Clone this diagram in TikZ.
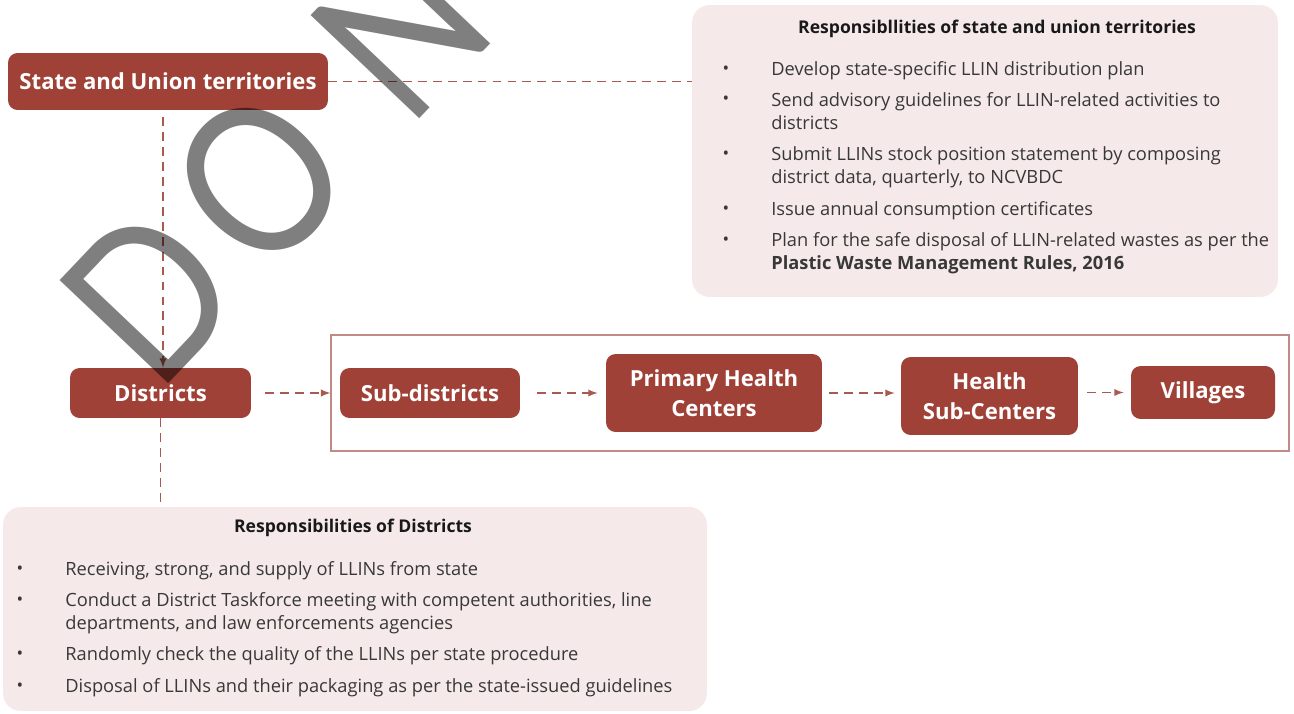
\documentclass[tikz,border=0pt]{standalone}
\usepackage{fontspec}
\setmainfont{Open Sans}
\newfontfamily\markfont[LetterSpace=12]{Lato}
\usetikzlibrary{positioning}
\definecolor{brick}{HTML}{A04137}
\definecolor{blush}{HTML}{F5EAE9}
\definecolor{dashred}{HTML}{A85A50}
\definecolor{framered}{HTML}{C08B86}
\definecolor{inkgray}{HTML}{383838}

\begin{document}
\begin{tikzpicture}[x=0.02cm, y=-0.02cm]
    % Define styles
    \tikzset{
        tierbox/.style={fill=brick, rounded corners=5.5pt, text=white, align=center, inner sep=0pt, font=\bfseries\fontsize{12.6}{17}\selectfont},
        dutybox/.style={fill=blush, rounded corners=10pt, inner sep=0pt},
        framebox/.style={draw=framered, line width=0.8pt, inner sep=0pt},
        dutytitle/.style={font=\bfseries\fontsize{10}{12}\selectfont, text=black!90, inner sep=0pt},
        dutyitem/.style={anchor=north west, align=left, inner sep=0pt, text=inkgray, font=\fontsize{10.4}{13}\selectfont},
        bulletdot/.style={anchor=base, inner sep=0pt, text=inkgray, font=\fontsize{10}{12}\selectfont},
        dashedlink/.style={draw=dashred, line width=0.85pt, dash pattern=on 5pt off 3.5pt},
        dashedarrow/.style={dashedlink, ->, >=latex},
        watermark/.style={rotate=46.5, xscale=0.85, anchor=base west, inner sep=0pt, text=black, opacity=0.5, font=\markfont\fontsize{119}{119}\selectfont}
    }
    \useasboundingbox (0,0) rectangle (1294,713);

    % Responsibility panels
    \node[dutybox, minimum width=11.72cm, minimum height=5.84cm] (stateduty) at (985,151) {};
    \node[dutybox, minimum width=14.08cm, minimum height=4.08cm] (distduty) at (355,609) {};

    % Tiers
    \node[tierbox, minimum width=6.4cm, minimum height=1.14cm] (state) at (168,81.5) {State and Union territories};
    \node[tierbox, minimum width=3.62cm, minimum height=1cm] (dist) at (160.5,393) {Districts};
    \node[framebox, minimum width=19.16cm, minimum height=2.32cm] (frame) at (810,393) {};
    \node[tierbox, minimum width=3.6cm, minimum height=1cm] (sub) at (430,393) {Sub-districts};
    \node[tierbox, minimum width=4.32cm, minimum height=1.56cm] (phc) at (714,393) {Primary Health\\Centers};
    \node[tierbox, minimum width=3.54cm, minimum height=1.56cm] (hsc) at (989.5,396) {Health\\Sub-Centers};
    \node[tierbox, minimum width=2.88cm, minimum height=1.06cm] (vill) at (1203,392.5) {Villages};

    % Connectors
    \draw[dashedlink] (state.east) -- (state.east -| stateduty.west);
    \draw[dashedarrow, shorten <=0.14cm] (state.south -| 163,0) -- (dist.north -| 163,0);
    \draw[dashedlink] (dist.south) -- (dist.south |- distduty.north);
    \draw[dashedarrow, shorten <=0.28cm] (dist.east) -- (frame.west);
    \draw[dashedarrow, shorten <=0.34cm, shorten >=0.16cm] (sub.east) -- (sub.east -| phc.west);
    \draw[dashedarrow, shorten <=0.14cm, shorten >=0.12cm] (phc.east) -- (phc.east -| hsc.west);
    \draw[dashedarrow, shorten <=0.18cm, shorten >=0.14cm] (hsc.east |- vill.east) -- (vill.west);

    % Responsibilities of state and union territories
    \node[dutytitle] (statetitle) at (997,29) {Responsibllities of state and union territories};
    \foreach \y [count=\i] in {74,105,159,214,245}
        \node[bulletdot] (sb\i) at (726,\y) {•};
    \node[dutyitem] (si1) at (771,61) {Develop state-specific LLIN distribution plan};
    \node[dutyitem] (si2) at (771,92) {Send advisory guidelines for LLIN-related activities to\\districts};
    \node[dutyitem] (si3) at (771,146) {Submit LLINs stock position statement by composing\\district data, quarterly, to NCVBDC};
    \node[dutyitem] (si4) at (771,201) {Issue annual consumption certificates};
    \node[dutyitem] (si5) at (771,232) {Plan for the safe disposal of LLIN-related wastes as per the\\\textbf{Plastic Waste Management Rules, 2016}};

    % Responsibilities of districts
    \node[dutytitle] (disttitle) at (353,528) {Responsibilities of Districts};
    \foreach \y [count=\i] in {574,605,659,691}
        \node[bulletdot] (db\i) at (20,\y) {•};
    \node[dutyitem] (di1) at (65,561) {Receiving, strong, and supply of LLINs from state};
    \node[dutyitem] (di2) at (65,592) {Conduct a District Taskforce meeting with competent authorities, line\\departments, and law enforcements agencies};
    \node[dutyitem] (di3) at (65,646) {Randomly check the quality of the LLINs per state procedure};
    \node[dutyitem] (di4) at (65,678) {Disposal of LLINs and their packaging as per the state-issued guidelines};

    % Watermark
    \begin{scope}
        \clip (0,0) rectangle (1294,713);
        \node[watermark] (mark) at (157,396) {DO NOT COPY};
    \end{scope}
\end{tikzpicture}
\end{document}
